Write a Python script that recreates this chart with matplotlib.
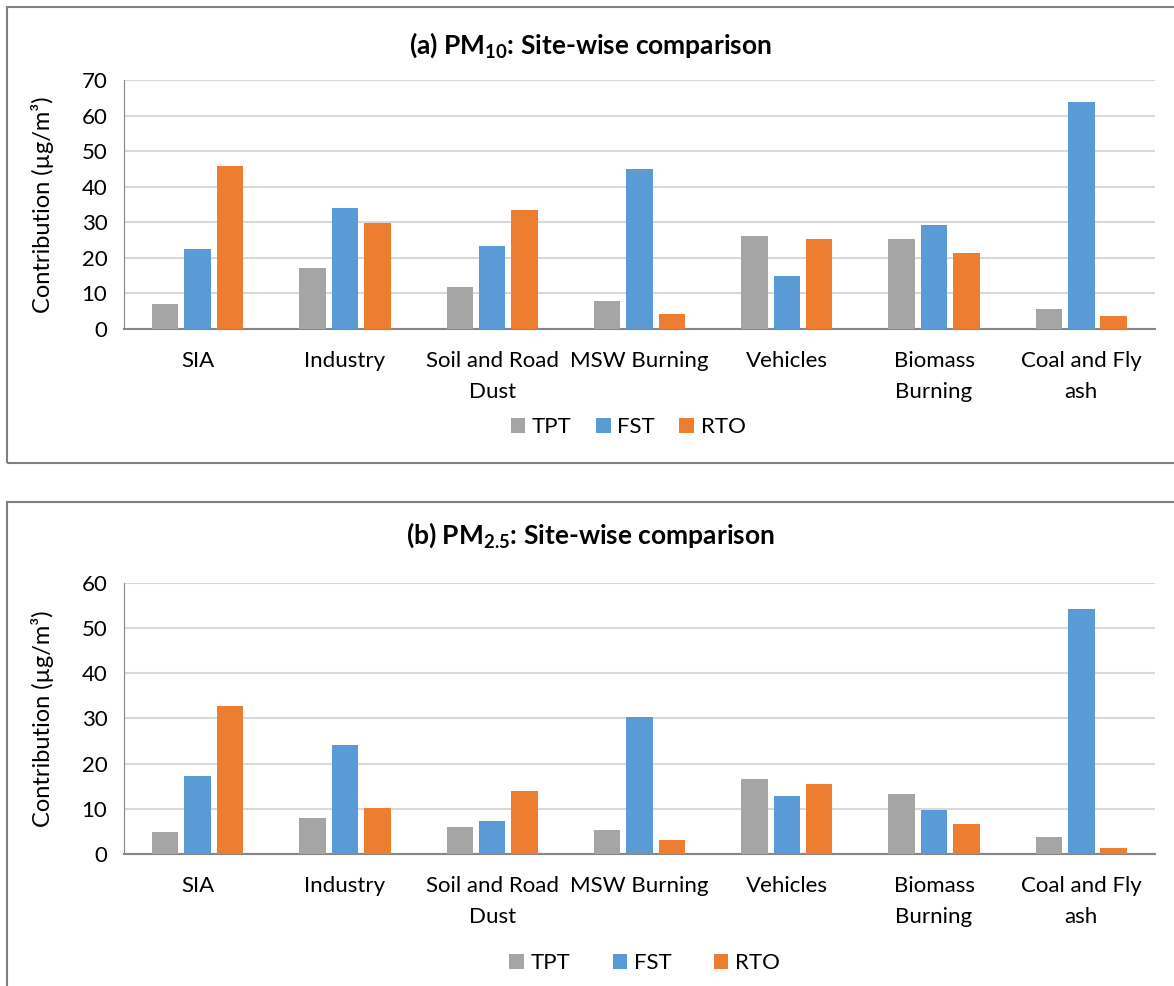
import matplotlib.pyplot as plt
import numpy as np
from matplotlib.patches import Rectangle

plt.rcParams['font.family'] = ['Lato', 'DejaVu Sans']
plt.rcParams['mathtext.fontset'] = 'custom'
plt.rcParams['mathtext.rm'] = 'Lato'
plt.rcParams['mathtext.bf'] = 'Lato:bold'

categories = ["SIA", "Industry", "Soil and Road\nDust", "MSW Burning",
              "Vehicles", "Biomass\nBurning", "Coal and Fly\nash"]
sites = ["TPT", "FST", "RTO"]
colors = ["#A5A5A5", "#5B9BD5", "#ED7D31"]

# PM10 contributions (ug/m3)
pm10_tpt = [6.9, 17.2, 11.9, 7.9, 26.1, 25.2, 5.5]
pm10_fst = [22.6, 34.1, 23.3, 45.0, 14.9, 29.1, 63.9]
pm10_rto = [45.9, 29.7, 33.5, 4.2, 25.2, 21.5, 3.6]

# PM2.5 contributions (ug/m3)
pm25_tpt = [4.9, 7.9, 6.0, 5.4, 16.5, 13.2, 3.8]
pm25_fst = [17.3, 24.1, 7.4, 30.4, 12.9, 9.7, 54.3]
pm25_rto = [32.7, 10.1, 13.9, 3.1, 15.5, 6.7, 1.3]

fig = plt.figure(figsize=(11.74, 9.86), dpi=100)

# outer boxes around each chart
fig.patches.append(Rectangle((0.006, 0.5304), 1.1, 0.4625, transform=fig.transFigure,
                             fill=False, edgecolor="#7f7f7f", lw=1.5))
fig.patches.append(Rectangle((0.006, -0.1), 1.1, 0.5909, transform=fig.transFigure,
                             fill=False, edgecolor="#7f7f7f", lw=1.5))


def draw(rect, series, ymax, title, title_y, leg_x, leg_y, colspace):
    ax = fig.add_axes(rect)
    x = np.arange(len(categories))
    offs = [-0.22, 0.0, 0.22]
    for vals, off, c, name in zip(series, offs, colors, sites):
        ax.bar(x + off, vals, width=0.18, color=c, label=name, zorder=3)
    ax.set_xlim(-0.5, len(categories) - 0.5)
    ax.set_ylim(0, ymax)
    ax.set_yticks(np.arange(0, ymax + 1, 10))
    ax.set_xticks(x)
    ax.set_xticklabels(categories, linespacing=1.65)
    ax.tick_params(axis='both', length=0, labelsize=16, colors="#000000")
    ax.tick_params(axis='x', pad=16)
    ax.tick_params(axis='y', pad=12)
    ax.grid(axis='y', color="#D9D9D9", lw=1.5, zorder=0)
    for s in ["top", "right"]:
        ax.spines[s].set_visible(False)
    ax.spines["left"].set_color("#868686")
    ax.spines["bottom"].set_color("#868686")
    ax.spines["bottom"].set_linewidth(1.5)
    ax.set_ylabel("Contribution (µg/m³)", fontsize=17, labelpad=20)
    fig.text(0.503, title_y, title, ha="center", va="center", fontsize=19, fontweight="bold")
    ax.legend(loc="center", bbox_to_anchor=(leg_x, leg_y), bbox_transform=fig.transFigure,
              ncol=3, frameon=False, fontsize=16, handlelength=0.65, handleheight=0.65,
              handletextpad=0.3, columnspacing=colspace)
    return ax


draw([0.1056, 0.6663, 0.8782, 0.2526], [pm10_tpt, pm10_fst, pm10_rto], 70,
     r"(a) PM$_{\mathbf{10}}$: Site-wise comparison", 0.954, 0.535, 0.567, 1.1)
draw([0.1056, 0.1339, 0.8782, 0.2748], [pm25_tpt, pm25_fst, pm25_rto], 60,
     r"(b) PM$_{\mathbf{2.5}}$: Site-wise comparison", 0.457, 0.549, 0.023, 1.9)

fig.savefig("out.png", dpi=100)
